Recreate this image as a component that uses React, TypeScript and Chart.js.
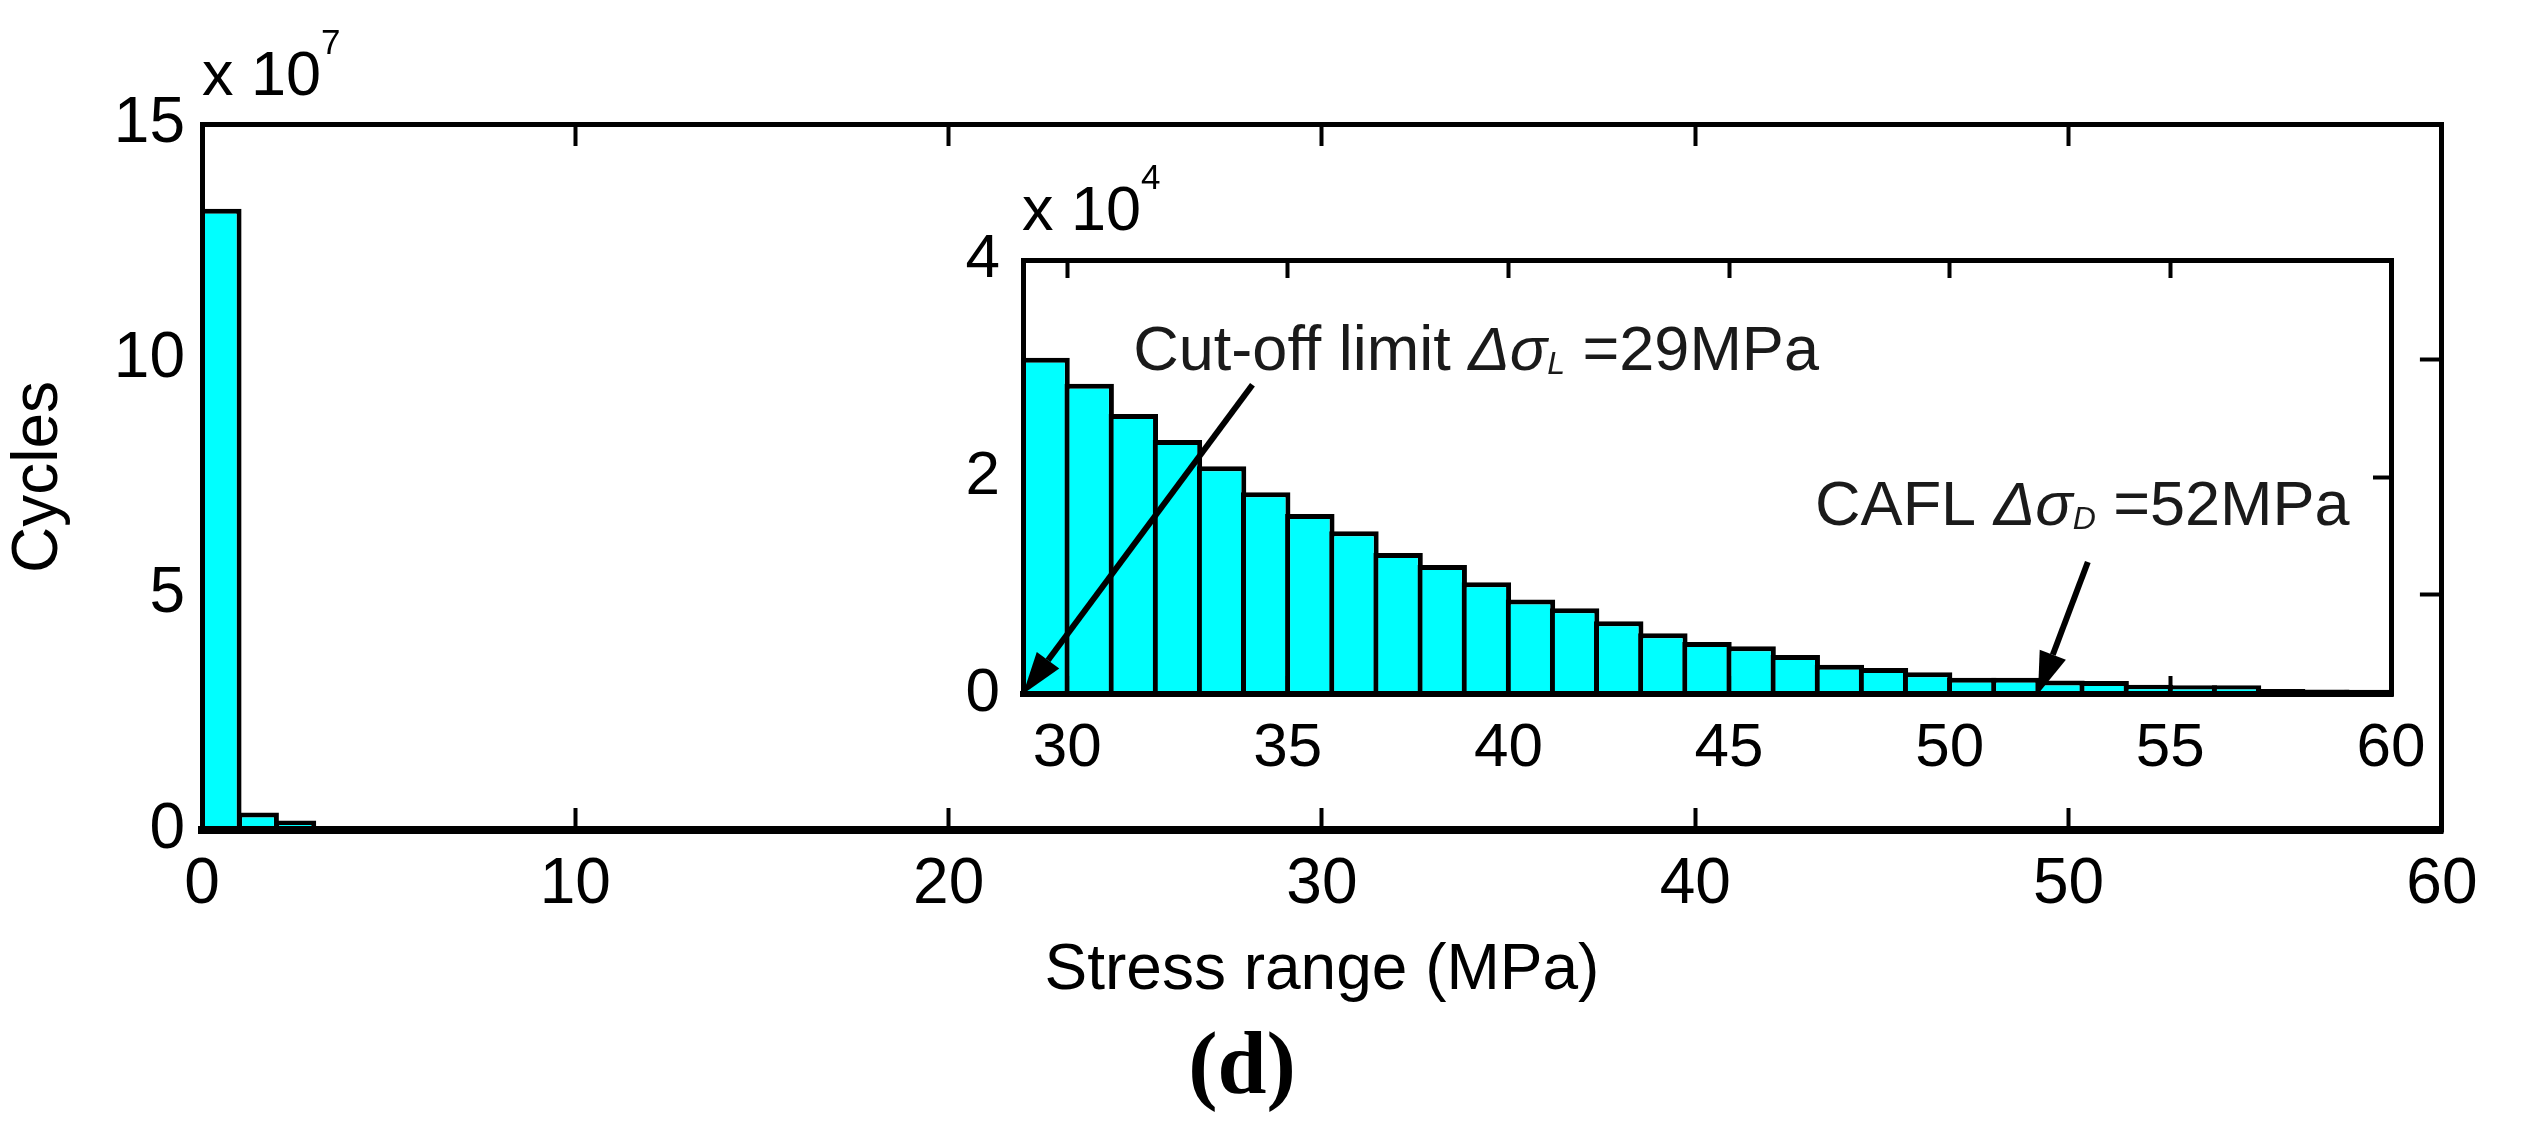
import { useEffect, useRef } from "react";
import { Chart, registerables } from "chart.js";

Chart.register(...registerables);

// cycles per 1 MPa bin (bins 0-28 are only visible in the main axes)
const lowRangeCycles = [
  132000000, 3700000, 2000000, 820000, 560000, 410000, 320000, 260000, 215000, 182000,
  158000, 139000, 124000, 112000, 102000, 94000, 87000, 81000, 75000, 70000,
  65000, 60000, 56000, 52000, 48000, 44000, 40000, 37000, 34000,
];
// bins 29-59, as shown in the zoomed inset
const highRangeCycles = [
  31000, 28600, 25800, 23400, 21000, 18600, 16600, 15000, 13000, 11900,
  10300, 8700, 7900, 6700, 5600, 4800, 4400, 3600, 2700, 2400,
  2000, 1500, 1500, 1250, 1200, 850, 800, 800, 450, 420, 400,
];
const insetFirstBin = 29;

const mainXTicks = [0, 10, 20, 30, 40, 50, 60];
const mainYTicks = [0, 50000000, 100000000, 150000000];
const insetXTicks = [30, 35, 40, 45, 50, 55, 60];
const insetYTicks = [0, 20000, 40000];

const cutOffLimit = 29;
const cafl = 52;

const CYAN = "#00ffff";
const SANS = '"Liberation Sans", Arial, Helvetica, sans-serif';
const W = 2523;
const H = 1135;

const mainPoints = [...lowRangeCycles, ...highRangeCycles].map((y, i) => ({ x: i + 0.5, y }));
const insetPoints = highRangeCycles.map((y, i) => ({ x: insetFirstBin + i + 0.5, y }));

const setTicks = (values: number[]) => (scale: any) => {
  scale.ticks = values.map((value) => ({ value }));
};

const boxScale = (
  axis: "x" | "y",
  position: string,
  min: number,
  max: number,
  ticks: number[],
  size: number,
  tickLength: number,
  borderWidth: number,
  extra: any = {}
) => ({
  type: "linear",
  axis,
  position,
  min,
  max,
  offset: false,
  afterBuildTicks: setTicks(ticks),
  afterFit: (scale: any) => {
    if (axis === "x") scale.height = size;
    else scale.width = size;
  },
  grid: {
    drawOnChartArea: false,
    drawTicks: true,
    tickLength,
    tickWidth: 4,
    tickColor: "#000",
    offset: false,
  },
  border: { display: true, color: "#000", width: borderWidth, z: 1 },
  ticks: { display: false },
  ...extra,
});

const tickFont = (size: number) => ({ family: SANS, size, lineHeight: 1 });

const drawSci = (ctx: CanvasRenderingContext2D, x: number, y: number, exp: string) => {
  ctx.save();
  ctx.fillStyle = "#000";
  ctx.textAlign = "left";
  ctx.textBaseline = "alphabetic";
  ctx.font = `63px ${SANS}`;
  ctx.fillText("x 10", x, y);
  const w = ctx.measureText("x 10").width;
  ctx.font = `35px ${SANS}`;
  ctx.fillText(exp, x + w, y - 41);
  ctx.restore();
};

const drawArrow = (ctx: CanvasRenderingContext2D, x1: number, y1: number, x2: number, y2: number) => {
  const ang = Math.atan2(y2 - y1, x2 - x1);
  const head = 42;
  const half = 14;
  const bx = x2 - head * Math.cos(ang);
  const by = y2 - head * Math.sin(ang);
  ctx.save();
  ctx.strokeStyle = "#000";
  ctx.fillStyle = "#000";
  ctx.lineWidth = 6;
  ctx.beginPath();
  ctx.moveTo(x1, y1);
  ctx.lineTo(bx, by);
  ctx.stroke();
  ctx.beginPath();
  ctx.moveTo(x2, y2);
  ctx.lineTo(bx + half * Math.sin(ang), by - half * Math.cos(ang));
  ctx.lineTo(bx - half * Math.sin(ang), by + half * Math.cos(ang));
  ctx.closePath();
  ctx.fill();
  ctx.restore();
};

type Part = { text: string; font: string; dy?: number };

const drawRich = (ctx: CanvasRenderingContext2D, x: number, y: number, parts: Part[]) => {
  ctx.save();
  ctx.fillStyle = "#1a1a1a";
  ctx.textAlign = "left";
  ctx.textBaseline = "alphabetic";
  let cx = x;
  parts.forEach((p) => {
    ctx.font = p.font;
    ctx.fillText(p.text, cx, y + (p.dy || 0));
    cx += ctx.measureText(p.text).width;
  });
  ctx.restore();
};

const mainTextPlugin = {
  id: "mainText",
  afterDraw: (chart: any) => {
    const { ctx, chartArea } = chart;
    drawSci(ctx, chartArea.left, chartArea.top - 29, "7");
    ctx.save();
    ctx.fillStyle = "#000";
    ctx.textAlign = "center";
    ctx.textBaseline = "alphabetic";
    ctx.font = 'bold 88px "Liberation Serif", "Times New Roman", serif';
    ctx.fillText("(d)", (chartArea.left + chartArea.right) / 2 - 80, chartArea.bottom + 263);
    ctx.restore();
  },
};

const insetTextPlugin = {
  id: "insetText",
  afterDraw: (chart: any) => {
    const { ctx, chartArea, scales } = chart;
    const x = scales.x;
    const y = scales.y;
    drawSci(ctx, chartArea.left - 1, chartArea.top - 30, "4");

    const normal = `63px ${SANS}`;
    const greek = `italic 62px ${SANS}`;
    const sub = `italic 32px ${SANS}`;

    drawArrow(ctx, x.getPixelForValue(34.2), y.getPixelForValue(28500), x.getPixelForValue(cutOffLimit), y.getPixelForValue(0));
    drawRich(ctx, x.getPixelForValue(31.5), y.getPixelForValue(29860), [
      { text: "Cut-off limit ", font: normal },
      { text: "\u0394\u03c3", font: greek },
      { text: "L", font: sub, dy: 4 },
      { text: ` =${cutOffLimit}MPa`, font: normal },
    ]);

    drawArrow(ctx, x.getPixelForValue(53.13), y.getPixelForValue(12170), x.getPixelForValue(cafl), y.getPixelForValue(0));
    drawRich(ctx, x.getPixelForValue(46.95), y.getPixelForValue(15580), [
      { text: "CAFL ", font: normal },
      { text: "\u0394\u03c3", font: greek },
      { text: "D", font: sub, dy: 4 },
      { text: ` =${cafl}MPa`, font: normal },
    ]);
  },
};

const barStyle = {
  backgroundColor: CYAN,
  borderColor: "#000",
  borderWidth: { top: 5, left: 5, right: 5, bottom: 0 },
  borderSkipped: false,
  barPercentage: 1.12,
  categoryPercentage: 1,
  grouped: false,
};

const App = () => {
  const mainRef = useRef<HTMLCanvasElement | null>(null);
  const insetRef = useRef<HTMLCanvasElement | null>(null);

  useEffect(() => {
    if (!mainRef.current || !insetRef.current) return;

    const mainChart = new Chart(mainRef.current, {
      type: "bar",
      data: { datasets: [{ data: mainPoints, ...barStyle } as any] },
      options: {
        responsive: false,
        animation: false,
        devicePixelRatio: 1,
        layout: { padding: { top: 124, right: 56, left: 0, bottom: 0 } },
        plugins: { legend: { display: false }, tooltip: { enabled: false } },
        scales: {
          x: boxScale("x", "bottom", 0, 60, mainXTicks, 305, -22, 8, {
            ticks: {
              display: true,
              autoSkip: false,
              maxRotation: 0,
              color: "#000",
              padding: 45.5,
              font: tickFont(64),
            },
            title: {
              display: true,
              text: "Stress range (MPa)",
              color: "#000",
              font: tickFont(64),
              padding: { top: 0, bottom: 132 },
            },
          }),
          xTop: boxScale("x", "top", 0, 60, mainXTicks, 0, -22, 5),
          y: boxScale("y", "left", 0, 150000000, mainYTicks, 202, -22, 5, {
            ticks: {
              display: true,
              autoSkip: false,
              color: "#000",
              padding: 39,
              font: tickFont(64),
              callback: (v: any) => String(Number(v) / 1e7),
            },
            title: {
              display: true,
              text: "Cycles",
              color: "#000",
              font: tickFont(64),
              padding: { top: 7, bottom: 0 },
            },
          }),
          yRight: boxScale("y", "right", 0, 150000000, mainYTicks, 0, -22, 5),
        } as any,
      },
      plugins: [mainTextPlugin],
    });

    const insetChart = new Chart(insetRef.current, {
      type: "bar",
      data: { datasets: [{ data: insetPoints, ...barStyle } as any] },
      options: {
        responsive: false,
        animation: false,
        devicePixelRatio: 1,
        layout: { padding: { top: 260, right: 132, left: 0, bottom: 0 } },
        plugins: { legend: { display: false }, tooltip: { enabled: false } },
        scales: {
          x: boxScale("x", "bottom", insetFirstBin, 60, insetXTicks, 441, -18, 6, {
            ticks: {
              display: true,
              autoSkip: false,
              maxRotation: 0,
              color: "#000",
              padding: 42,
              font: tickFont(62),
            },
          }),
          xTop: boxScale("x", "top", insetFirstBin, 60, insetXTicks, 0, -18, 5),
          y: boxScale("y", "left", 0, 40000, insetYTicks, 1023, -18, 5, {
            ticks: {
              display: true,
              autoSkip: false,
              color: "#000",
              padding: 41,
              font: tickFont(62),
              callback: (v: any) => String(Number(v) / 1e4),
            },
          }),
          yRight: boxScale("y", "right", 0, 40000, insetYTicks, 0, -18, 5),
        } as any,
      },
      plugins: [insetTextPlugin],
    });

    return () => {
      mainChart.destroy();
      insetChart.destroy();
    };
  }, []);

  return (
    <div
      style={{
        position: "absolute",
        left: 0,
        top: 0,
        width: W,
        height: H,
        background: "#fff",
        overflow: "hidden",
      }}
    >
      <canvas ref={mainRef} width={W} height={H} style={{ position: "absolute", left: 0, top: 0 }} />
      <canvas
        ref={insetRef}
        width={W}
        height={H}
        style={{ position: "absolute", left: 0, top: 0, pointerEvents: "none" }}
      />
    </div>
  );
};

export default App;
